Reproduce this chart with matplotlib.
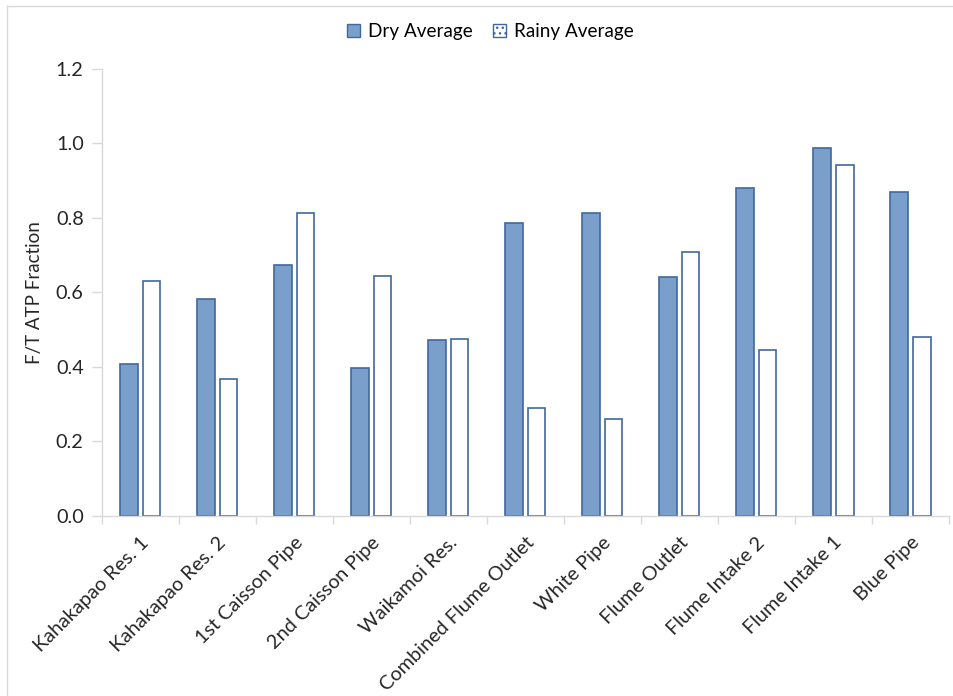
import numpy as np
import matplotlib.pyplot as plt
from matplotlib.patches import Patch
from matplotlib.lines import Line2D

plt.rcParams['font.family'] = ['Lato', 'DejaVu Sans']

sites = ["Kahakapao Res. 1", "Kahakapao Res. 2", "1st Caisson Pipe", "2nd Caisson Pipe",
         "Waikamoi Res.", "Combined Flume Outlet", "White Pipe", "Flume Outlet",
         "Flume Intake 2", "Flume Intake 1", "Blue Pipe"]
dry_avg = [0.407, 0.581, 0.674, 0.398, 0.471, 0.787, 0.813, 0.641, 0.881, 0.988, 0.869]
rainy_avg = [0.631, 0.367, 0.814, 0.643, 0.475, 0.288, 0.260, 0.707, 0.445, 0.942, 0.480]

fill_blue = '#7a9fcb'
edge_blue = '#41689e'
axis_grey = '#d9d9d9'
text_col = '#262626'

fig = plt.figure(figsize=(9.54, 6.96), dpi=100)
ax = fig.add_axes([0.1066, 0.259, 0.888, 0.642])

x = np.arange(len(sites))
w = 0.23
ax.bar(x - 0.147, dry_avg, w, color=fill_blue, edgecolor=edge_blue, linewidth=1.2)
ax.bar(x + 0.147, rainy_avg, w, color='white', edgecolor=edge_blue, linewidth=1.2)

ax.set_xlim(-0.5, len(sites) - 0.5)
ax.set_ylim(0, 1.2)
ax.set_yticks(np.arange(0, 1.21, 0.2))
ax.set_yticklabels(["{:.1f}".format(v) for v in np.arange(0, 1.21, 0.2)])

# category boundaries carry the tick marks, labels sit under the bar pairs
ax.set_xticks(np.arange(-0.5, len(sites), 1.0))
ax.set_xticklabels([])
ax.set_xticks(x, minor=True)
ax.set_xticklabels(sites, minor=True, rotation=45, ha='right', rotation_mode='anchor')
ax.tick_params(axis='x', which='minor', length=0, pad=13, labelsize=14.3, colors=text_col)
ax.tick_params(axis='x', which='major', length=6, color=axis_grey, width=1)
ax.tick_params(axis='y', length=7, color=axis_grey, width=1, labelsize=14.3,
               labelcolor=text_col, pad=6)

for side in ['top', 'right']:
    ax.spines[side].set_visible(False)
for side in ['left', 'bottom']:
    ax.spines[side].set_color(axis_grey)
    ax.spines[side].set_linewidth(1)

ax.set_ylabel("F/T ATP Fraction", fontsize=13.5, color=text_col, labelpad=9)

handles = [Patch(facecolor=fill_blue, edgecolor=edge_blue, label='Dry Average'),
           Patch(facecolor='white', edgecolor=edge_blue, hatch='...', label='Rainy Average')]
fig.legend(handles=handles, loc='center', bbox_to_anchor=(0.514, 0.955), ncol=2,
           frameon=False, fontsize=13.6, handlelength=0.7, handleheight=0.7,
           handletextpad=0.4, columnspacing=1.1)

# chart area outline
fig.add_artist(Line2D([7 / 954, 1], [1 - 6 / 696, 1 - 6 / 696], color=axis_grey, lw=1))
fig.add_artist(Line2D([7 / 954, 7 / 954], [0, 1 - 6 / 696], color=axis_grey, lw=1))

fig.savefig("out.png", dpi=100)
